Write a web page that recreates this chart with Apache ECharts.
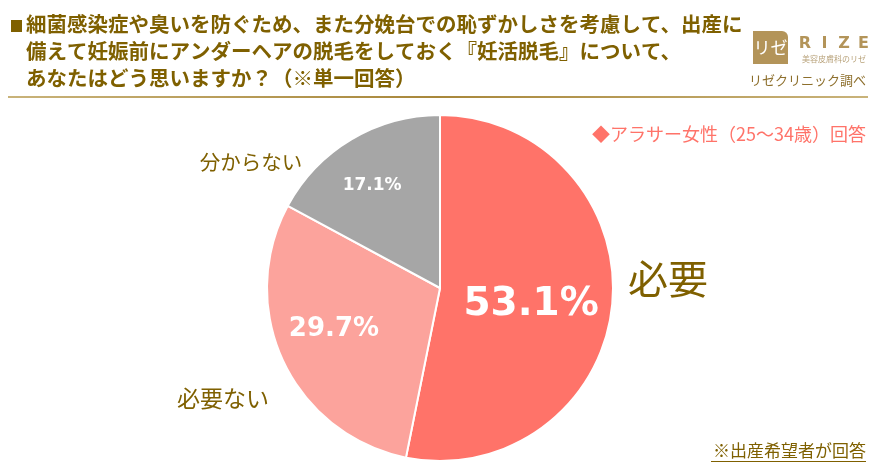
<!DOCTYPE html>
<html>
<head>
<meta charset="utf-8">
<script src="https://cdn.jsdelivr.net/npm/echarts@6/dist/echarts.min.js"></script>
<style>
html,body{margin:0;padding:0;background:#fff;}
#chart{width:875px;height:473px;}
</style>
</head>
<body>
<div id="chart"></div>
<script>
const titleLines = [
  '細菌感染症や臭いを防ぐため、また分娩台での恥ずかしさを考慮して、出産に',
  '備えて妊娠前にアンダーヘアの脱毛をしておく『妊活脱毛』について、',
  'あなたはどう思いますか？（※単一回答）'
];
const categories = ['必要', '必要ない', '分からない'];
const values = [53.1, 29.7, 17.1];
const sliceColors = ['#FF7369', '#FCA39C', '#A6A6A6'];
const subtitleText = '◆アラサー女性（25〜34歳）回答';
const noteText = '※出産希望者が回答';
const sourceText = 'リゼクリニック調べ';

const JP = '"Noto Sans CJK JP", "Noto Sans", sans-serif';
const NUM = '"DejaVu Sans", sans-serif';
const GOLD = '#7F6000';

const labelStyles = [
  {fontSize: 39, offset: [2, 8]},
  {fontSize: 26, offset: [-25, 3]},
  {fontSize: 17, offset: [-22, -26]}
];
const catLabelPos = [
  {x: 668, y: 279, size: 40},
  {x: 223, y: 398, size: 23},
  {x: 251, y: 162, size: 20.5}
];

const chart = echarts.init(document.getElementById('chart'), null, {renderer: 'canvas'});

const graphics = [];
graphics.push({type: 'rect', shape: {x: 11, y: 20, width: 11, height: 12}, style: {fill: GOLD}});
titleLines.forEach((t, i) => {
  graphics.push({
    type: 'text', left: 26, top: 14 + i * 27,
    style: {text: t, fill: GOLD, font: 'bold 20.5px ' + JP}
  });
});
graphics.push({
  type: 'rect', shape: {x: 8, y: 96, width: 860, height: 2},
  style: {fill: new echarts.graphic.LinearGradient(0, 0, 1, 0, [
    {offset: 0, color: '#C9B37A'}, {offset: 0.5, color: '#A8873A'}, {offset: 1, color: '#C9B37A'}
  ])}
});
// logo
graphics.push({
  type: 'rect', shape: {x: 753, y: 31, width: 35, height: 33, r: [0, 6, 0, 0]},
  style: {fill: '#B39459'}
});
graphics.push({
  type: 'text', x: 770.5, y: 47.5, style: {text: 'リゼ', fill: '#fff', font: '17px ' + JP, align: 'center', verticalAlign: 'middle'}
});
['R','I','Z','E'].forEach((c, i) => {
  graphics.push({
    type: 'text', x: 805 + i * 19.5, y: 44,
    style: {text: c, fill: '#B39459', font: 'bold 16px "DejaVu Sans", sans-serif', align: 'center', verticalAlign: 'middle'}
  });
});
graphics.push({
  type: 'text', x: 834, y: 59, style: {text: '美容皮膚科のリゼ', fill: '#B8A27A', font: '8px ' + JP, align: 'center', verticalAlign: 'middle'}
});
graphics.push({
  type: 'text', x: 866, y: 80, style: {text: sourceText, fill: '#8D6F2C', font: '13px ' + JP, align: 'right', verticalAlign: 'middle'}
});
graphics.push({
  type: 'text', x: 866, y: 134, style: {text: subtitleText, fill: '#FF7369', font: '18px ' + JP, align: 'right', verticalAlign: 'middle'}
});
graphics.push({
  type: 'text', x: 866, y: 451, style: {text: noteText, fill: GOLD, font: '17px ' + JP, align: 'right', verticalAlign: 'middle'}
});
graphics.push({
  type: 'rect', shape: {x: 711, y: 461, width: 155, height: 1}, style: {fill: GOLD}
});
categories.forEach((c, i) => {
  const p = catLabelPos[i];
  graphics.push({
    type: 'text', x: p.x, y: p.y,
    style: {text: c, fill: GOLD, font: p.size + 'px ' + JP, align: 'center', verticalAlign: 'middle'}
  });
});

chart.setOption({
  animation: false,
  graphic: graphics,
  series: [{
    type: 'pie',
    center: [440, 288],
    radius: [0, 173],
    startAngle: 90,
    clockwise: true,
    silent: true,
    itemStyle: {borderColor: '#fff', borderWidth: 2},
    label: {
      show: true, position: 'inside', color: '#fff', fontWeight: 'bold', fontFamily: NUM,
      formatter: p => p.value.toFixed(1) + '%'
    },
    labelLine: {show: false},
    data: categories.map((c, i) => ({
      name: c, value: values[i],
      itemStyle: {color: sliceColors[i]},
      label: {fontSize: labelStyles[i].fontSize, offset: labelStyles[i].offset}
    }))
  }]
});
</script>
</body>
</html>
